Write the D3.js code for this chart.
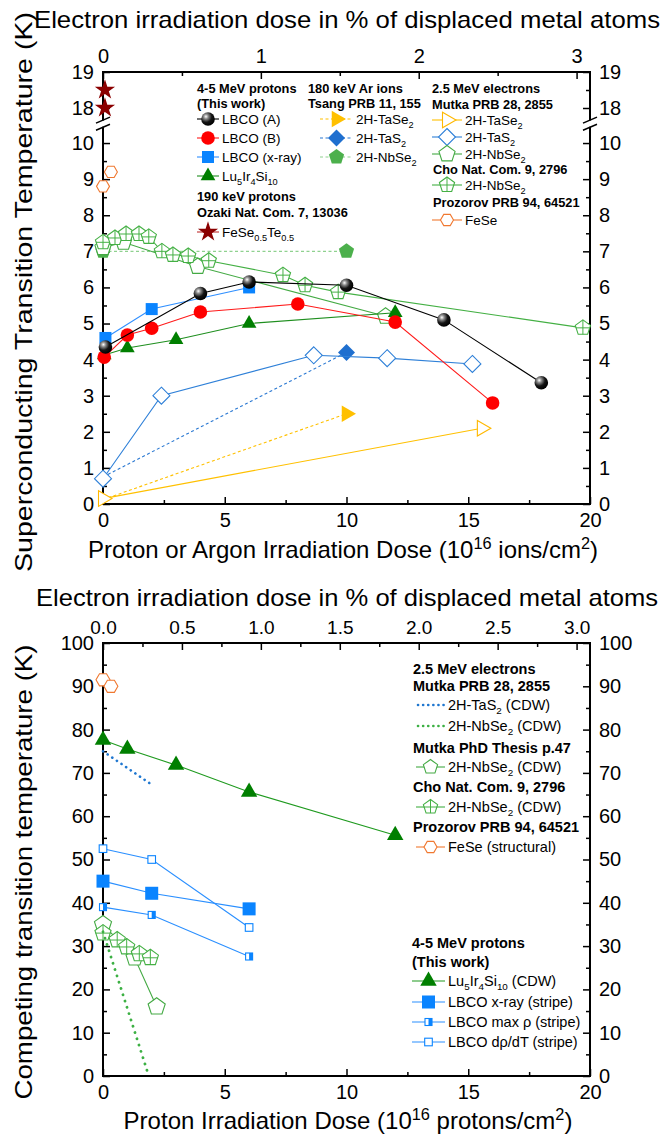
<!DOCTYPE html>
<html>
<head>
<meta charset="utf-8">
<script src="https://cdn.jsdelivr.net/npm/d3@7"></script>
<style>
  body { margin: 0; background: #fff; }
  text { font-family: "Liberation Sans", Arial, sans-serif; fill: #000; }
</style>
</head>
<body>
<svg id="chart" width="664" height="1141"></svg>
<script>
// ---------- top panel data (x = 1e16 ions/cm2, electron series in % displaced) ----------
const lbcoA      = [[0.1,4.35],[4,5.83],[6,6.15],[10,6.06],[14,5.1],[18,3.36]];
const lbcoB      = [[0.05,4.07],[1,4.68],[2,4.87],[4,5.32],[8,5.54],[12,5.04],[16,2.8]];
const lbcoXray   = [[0.1,4.6],[2,5.4],[6,6.0]];
const luIrSi     = [[0.05,4.13],[1,4.32],[3,4.55],[6,5.0],[12,5.3]];
const feSeTe     = [[0.08,18.5],[0.08,18.0]];
const tsangTaSe2 = [[0,0.12],[10,2.5]];
const tsangTaS2  = [[0,0.75],[10,4.2]];
const tsangNbSe2 = [[0,7.0],[10,7.0]];
const mutkaTaSe2 = [[0,0.15],[2.4,2.1]];
const mutkaTaS2  = [[0,0.7],[0.37,3.0],[1.335,4.12],[1.8,4.04],[2.34,3.88]];
const mutkaNbSe2 = [[0,7.1],[0.13,7.25],[0.6,6.58],[1.79,5.2]];
const choNbSe2   = [[0,7.25],[0.076,7.37],[0.146,7.48],[0.228,7.48],[0.29,7.4],[0.373,7.0],[0.443,6.9],
                    [0.54,6.87],[0.67,6.74],[1.14,6.34],[1.28,6.06],[1.49,5.87],[3.04,4.88]];
const prozFeSe   = [[0,8.8],[0.05,9.2]];

// ---------- bottom panel data ----------
const mutkaTaS2Cdw   = [[0,75],[0.3,67.5]];
const mutkaNbSe2Cdw  = [[0,33.3],[0.29,0]];
const thesisNbSe2    = [[0,35],[0.2,27.3],[0.34,16]];
const choNbSe2Cdw    = [[0,33],[0.09,31.4],[0.15,29.8],[0.23,28.2],[0.3,27.3]];
const prozFeSeStruct = [[0,91.5],[0.05,90]];
const luIrSiCdw      = [[0,77.6],[1,75.5],[3,71.8],[6,65.6],[12,55.6]];
const lbcoXrayStripe = [[0,45],[2,42.2],[6,38.6]];
const lbcoMaxRho     = [[0,39],[2,37.2],[6,27.6]];
const lbcoDrdt       = [[0,52.5],[2,50],[6,34.3]];

// ticks
const xMajor = [0,5,10,15,20], xMinor = [2.5,7.5,12.5,17.5];
const eTopMajor = [0,1,2,3], eTopMinor = [0.5,1.5,2.5];
const eBotMajor = [0,0.5,1,1.5,2,2.5,3], eBotMinor = [0.25,0.75,1.25,1.75,2.25,2.75];
const yLoMajor = d3.range(0,11), yLoMinor = d3.range(0.5,10.5,1);
const yHiMajor = [18,19], yHiMinor = [18.5];
const yBMajor = d3.range(0,101,10), yBMinor = d3.range(5,100,10);

const X0 = 103, X1 = 590;
const svg = d3.select("#chart");

const grad = svg.append("defs").append("radialGradient").attr("id","sph")
  .attr("cx","35%").attr("cy","32%").attr("r","70%");
grad.append("stop").attr("offset","0%").attr("stop-color","#ffffff");
grad.append("stop").attr("offset","25%").attr("stop-color","#8a8a8a");
grad.append("stop").attr("offset","60%").attr("stop-color","#151515");
grad.append("stop").attr("offset","100%").attr("stop-color","#000");

const xP = d3.scaleLinear().domain([0,20]).range([X0,X1]);
const xE = d3.scaleLinear().domain([0,3.085]).range([X0,X1]);
const yLo = d3.scaleLinear().domain([0,10.45]).range([504,126.8]);
const yHi = d3.scaleLinear().domain([17.65,19]).range([120.6,72]);
const yT = v => v > 15 ? yHi(v) : yLo(v);
const yB = d3.scaleLinear().domain([0,100]).range([1076,643]);

// sub/superscript text: "Lu_{5}" "10^{16}"
function rich(t, str, fs) {
  let shift = 0;
  str.split(/(_\{[^}]*\}|\^\{[^}]*\})/).forEach(p => {
    if (!p) return;
    let s = 0, txt = p, small = false;
    if (p.startsWith("_{")) { s = fs*0.28; txt = p.slice(2,-1); small = true; }
    else if (p.startsWith("^{")) { s = -fs*0.4; txt = p.slice(2,-1); small = true; }
    const ts = t.append("tspan").text(txt);
    if (s - shift !== 0) ts.attr("dy", s - shift);
    if (small) ts.attr("font-size", fs*0.68);
    shift = s;
  });
}

function poly(n, r, rot) {
  const pts = d3.range(n).map(i => {
    const a = rot + i*2*Math.PI/n;
    return [ (r*Math.cos(a)).toFixed(2), (r*Math.sin(a)).toFixed(2) ];
  });
  return "M" + pts.map(p => p.join(",")).join("L") + "Z";
}

function marker(g, m, x, y) {
  const s = g.append("g").attr("transform", `translate(${x},${y})`);
  const sw = m.sw || 1.1;
  const r = m.r;
  if (m.shape === "sphere") {
    s.append("circle").attr("r", r).attr("fill","url(#sph)");
  } else if (m.shape === "circle") {
    s.append("circle").attr("r", r).attr("fill", m.fill);
  } else if (m.shape === "square" || m.shape === "halfsq") {
    s.append("rect").attr("x",-r).attr("y",-r).attr("width",2*r).attr("height",2*r)
      .attr("fill", m.fill).attr("stroke", m.stroke || "none").attr("stroke-width", sw);
    if (m.shape === "halfsq")
      s.append("rect").attr("x",0).attr("y",-r).attr("width",r).attr("height",2*r).attr("fill", m.stroke);
  } else if (m.shape === "star") {
    s.append("path").attr("d", d3.symbol(d3.symbolStar, r*r*2.6)()).attr("fill", m.fill);
  } else {
    const spec = { tri:[3,-Math.PI/2], rtri:[3,0], diamond:[4,-Math.PI/2],
                   pent:[5,-Math.PI/2], pentx:[5,-Math.PI/2], hex:[6,0] }[m.shape];
    s.append("path").attr("d", poly(spec[0], r, spec[1]))
      .attr("fill", m.fill).attr("stroke", m.stroke || "none").attr("stroke-width", sw);
    if (m.shape === "pentx") {
      s.append("path").attr("d", `M0,${-r}V${(r*Math.cos(Math.PI/5)).toFixed(2)}M${-r*0.88},0H${r*0.88}`)
        .attr("stroke", m.stroke).attr("stroke-width", sw*0.9);
    }
  }
}

function drawSeries(g, data, xs, ys, st) {
  if (st.lc) {
    const line = d3.line().x(d => xs(d[0])).y(d => ys(d[1]));
    g.append("path").attr("d", line(data)).attr("fill","none")
      .attr("stroke", st.lc).attr("stroke-width", st.lw || 1.1)
      .attr("stroke-dasharray", st.dash || null)
      .attr("stroke-linecap", st.cap || "butt");
  }
  if (st.shape) data.forEach((d,i) => { if (i >= (st.skip || 0)) marker(g, st, xs(d[0]), ys(d[1])); });
}

function legendRow(g, xa, xb, y, st, label, fs) {
  g.append("line").attr("x1",xa).attr("x2",xb).attr("y1",y).attr("y2",y)
    .attr("stroke", st.lc).attr("stroke-width", st.llw || st.lw || 1.1)
    .attr("stroke-dasharray", st.ldash || st.dash || null)
    .attr("stroke-linecap", st.cap || "butt");
  if (st.shape) marker(g, st, (xa+xb)/2, y);
  const t = g.append("text").attr("x", xb + 3).attr("y", y + 0.35*fs).attr("font-size", fs);
  rich(t, label, fs);
}

function header(g, x, y, str, fs) {
  g.append("text").attr("x", x).attr("y", y + 0.35*fs)
    .attr("font-size", fs).attr("font-weight","bold").text(str);
}

// inward ticks, labels outside
function axis(g, fn, scale, major, minor, fmt, fs) {
  const a = g.append("g");
  a.call(fn(scale).tickValues(major).tickSize(-7).tickPadding(9).tickFormat(fmt))
   .call(s => s.select(".domain").remove());
  a.selectAll("text").attr("font-size", fs).attr("font-family", '"Liberation Sans", Arial, sans-serif');
  a.selectAll("line").attr("stroke-width", 1.5);
  if (minor.length) {
    const b = g.append("g");
    b.call(fn(scale).tickValues(minor).tickSize(-4).tickFormat(""))
     .call(s => s.select(".domain").remove());
    b.selectAll("line").attr("stroke-width", 1.5);
  }
}

// ================= TOP PANEL =================
const topP = svg.append("g");
const fmtInt = d3.format("d");
axis(topP.append("g").attr("transform",`translate(0,504)`), d3.axisBottom, xP, xMajor, xMinor, fmtInt, 20);
axis(topP.append("g").attr("transform",`translate(0,72)`), d3.axisTop, xE, eTopMajor, eTopMinor, fmtInt, 20);
axis(topP.append("g").attr("transform",`translate(${X0},0)`), d3.axisLeft, yLo, yLoMajor, yLoMinor, fmtInt, 20);
axis(topP.append("g").attr("transform",`translate(${X0},0)`), d3.axisLeft, yHi, yHiMajor, yHiMinor, fmtInt, 20);
axis(topP.append("g").attr("transform",`translate(${X1},0)`), d3.axisRight, yLo, yLoMajor, yLoMinor, fmtInt, 20);
axis(topP.append("g").attr("transform",`translate(${X1},0)`), d3.axisRight, yHi, yHiMajor, yHiMinor, fmtInt, 20);

const frame = topP.append("g").attr("stroke","#000").attr("stroke-width",2).attr("fill","none");
frame.append("path").attr("d",
  `M${X0},${yHi(17.65)}V72H${X1}V${yHi(17.65)}M${X0},${yLo(10.45)}V504H${X1}V${yLo(10.45)}`);
[X0, X1].forEach(x => {
  frame.append("path").attr("stroke-width",1.5)
    .attr("d", `M${x-7},${yHi(17.65)+2.5}L${x+7},${yHi(17.65)-3.5}M${x-7},${yLo(10.45)+3.5}L${x+7},${yLo(10.45)-2.5}`);
});

const styleTop = {
  lbcoA:   { lc:"#000", shape:"sphere", r:6.8 },
  lbcoB:   { lc:"#ff1a1a", shape:"circle", r:6.8, fill:"#ff0000" },
  lbcoX:   { lc:"#2f8fff", shape:"square", r:6, fill:"#0a84ff" },
  lu:      { lc:"#1f8f1f", shape:"tri", r:8.5, fill:"#007f00" },
  feSeTe:  { lc:"#c03030", shape:"star", r:7, fill:"#8b0000" },
  tTaSe2:  { lc:"#ffc000", dash:"3,2.5", shape:"rtri", r:9.5, fill:"#ffc000", skip:1 },
  tTaS2:   { lc:"#2a78d2", dash:"3,2.5", shape:"diamond", r:8.5, fill:"#1f6fcf", skip:1 },
  tNbSe2:  { lc:"#8fd18f", dash:"3,2.5", shape:"pent", r:8, fill:"#4cb04c" },
  mTaSe2:  { lc:"#ffc000", shape:"rtri", r:9, fill:"#fff", stroke:"#ffb800" },
  mTaS2:   { lc:"#2f80d8", shape:"diamond", r:8.5, fill:"#fff", stroke:"#2f80d8" },
  mNbSe2:  { lc:"#44aa44", shape:"pent", r:8.5, fill:"#fff", stroke:"#44aa44" },
  cNbSe2:  { lc:"#44b044", shape:"pentx", r:8, fill:"#fff", stroke:"#44b044" },
  pFeSe:   { lc:"#f07830", shape:"hex", r:6.5, fill:"#fff", stroke:"#f07830" }
};

const data1 = topP.append("g");
drawSeries(data1, tsangNbSe2, xP, yT, styleTop.tNbSe2);
drawSeries(data1, tsangTaSe2, xP, yT, styleTop.tTaSe2);
drawSeries(data1, tsangTaS2, xP, yT, styleTop.tTaS2);
drawSeries(data1, mutkaTaSe2, xE, yT, styleTop.mTaSe2);
drawSeries(data1, mutkaTaS2, xE, yT, styleTop.mTaS2);
drawSeries(data1, mutkaNbSe2, xE, yT, styleTop.mNbSe2);
drawSeries(data1, choNbSe2, xE, yT, styleTop.cNbSe2);
drawSeries(data1, prozFeSe, xE, yT, { ...styleTop.pFeSe, lc:null });
drawSeries(data1, luIrSi, xP, yT, styleTop.lu);
drawSeries(data1, lbcoXray, xP, yT, styleTop.lbcoX);
drawSeries(data1, lbcoB, xP, yT, styleTop.lbcoB);
drawSeries(data1, lbcoA, xP, yT, styleTop.lbcoA);
drawSeries(data1, feSeTe, xP, yT, { ...styleTop.feSeTe, lc:null });

// top legend
const lg1 = topP.append("g");
const fsL = 13.5, fsH = 12.8;
header(lg1, 197, 89, "4-5 MeV protons", fsH);
header(lg1, 197, 104, "(This work)", fsH);
legendRow(lg1, 197, 219, 119, styleTop.lbcoA, "LBCO (A)", fsL);
legendRow(lg1, 197, 219, 138, styleTop.lbcoB, "LBCO (B)", fsL);
legendRow(lg1, 197, 219, 157, styleTop.lbcoX, "LBCO (x-ray)", fsL);
legendRow(lg1, 197, 219, 176, styleTop.lu, "Lu_{5}Ir_{4}Si_{10}", fsL);
header(lg1, 197, 197, "190 keV protons", fsH);
header(lg1, 197, 213, "Ozaki Nat. Com. 7, 13036", fsH);
legendRow(lg1, 197, 219, 232, styleTop.feSeTe, "FeSe_{0.5}Te_{0.5}", fsL);

header(lg1, 308, 89, "180 keV Ar ions", fsH);
header(lg1, 308, 104, "Tsang PRB 11, 155", fsH);
legendRow(lg1, 320, 353, 119, styleTop.tTaSe2, "2H-TaSe_{2}", fsL);
legendRow(lg1, 320, 353, 138, styleTop.tTaS2, "2H-TaS_{2}", fsL);
legendRow(lg1, 320, 353, 157, styleTop.tNbSe2, "2H-NbSe_{2}", fsL);

header(lg1, 432, 89, "2.5 MeV electrons", fsH);
header(lg1, 432, 105, "Mutka PRB 28, 2855", fsH);
legendRow(lg1, 432, 462, 120, styleTop.mTaSe2, "2H-TaSe_{2}", fsL);
legendRow(lg1, 432, 462, 137, styleTop.mTaS2, "2H-TaS_{2}", fsL);
legendRow(lg1, 432, 462, 154, styleTop.mNbSe2, "2H-NbSe_{2}", fsL);
header(lg1, 433, 170, "Cho Nat. Com. 9, 2796", fsH);
legendRow(lg1, 432, 462, 185, styleTop.cNbSe2, "2H-NbSe_{2}", fsL);
header(lg1, 433, 203, "Prozorov PRB 94, 64521", fsH);
legendRow(lg1, 432, 462, 220, styleTop.pFeSe, "FeSe", fsL);

// titles
topP.append("text").attr("x", 347).attr("y", 20 + 8.4).attr("text-anchor","middle")
  .attr("font-size", 24).attr("textLength", 626).attr("lengthAdjust","spacingAndGlyphs")
  .text("Electron irradiation dose in % of displaced metal atoms");
const xt1 = topP.append("text").attr("x", 343).attr("y", 550 + 8.4).attr("text-anchor","middle")
  .attr("font-size", 24);
rich(xt1, "Proton or Argon Irradiation Dose (10^{16} ions/cm^{2})", 24);
topP.append("text").attr("transform","translate(32,292) rotate(-90)").attr("text-anchor","middle")
  .attr("font-size", 24).attr("textLength", 560).attr("lengthAdjust","spacingAndGlyphs")
  .text("Superconducting Transition Temperature (K)");

// ================= BOTTOM PANEL =================
const botP = svg.append("g");
const fmt1 = d3.format(".1f");
axis(botP.append("g").attr("transform",`translate(0,1076)`), d3.axisBottom, xP, xMajor, xMinor, fmtInt, 20);
axis(botP.append("g").attr("transform",`translate(0,643)`), d3.axisTop, xE, eBotMajor, eBotMinor, fmt1, 19);
axis(botP.append("g").attr("transform",`translate(${X0},0)`), d3.axisLeft, yB, yBMajor, yBMinor, fmtInt, 20);
axis(botP.append("g").attr("transform",`translate(${X1},0)`), d3.axisRight, yB, yBMajor, yBMinor, fmtInt, 20);
botP.append("rect").attr("x",X0).attr("y",643).attr("width",X1-X0).attr("height",1076-643)
  .attr("fill","none").attr("stroke","#000").attr("stroke-width",2);

const styleBot = {
  mTaS2:  { lc:"#1f77d0", lw:2.6, dash:"0.1,5.5", cap:"round" },
  mNbSe2: { lc:"#3cb043", lw:2.8, dash:"0.1,6.5", cap:"round" },
  thesis: { lc:"#44aa44", shape:"pent", r:9, fill:"#fff", stroke:"#44aa44" },
  cho:    { lc:"#44b044", shape:"pentx", r:8.5, fill:"#fff", stroke:"#44b044" },
  feSe:   { lc:"#f07830", shape:"hex", r:7, fill:"#fff", stroke:"#f07830" },
  lu:     { lc:"#1f9a1f", shape:"tri", r:9.5, fill:"#007f00" },
  xray:   { lc:"#2a8fff", shape:"square", r:6.5, fill:"#0a84ff" },
  maxRho: { lc:"#2a8fff", shape:"halfsq", r:3.5, fill:"#fff", stroke:"#0a84ff" },
  drdt:   { lc:"#2a8fff", shape:"square", r:3.8, fill:"#fff", stroke:"#0a84ff" }
};

const data2 = botP.append("g");
drawSeries(data2, luIrSiCdw, xP, yB, styleBot.lu);
drawSeries(data2, lbcoDrdt, xP, yB, styleBot.drdt);
drawSeries(data2, lbcoXrayStripe, xP, yB, styleBot.xray);
drawSeries(data2, lbcoMaxRho, xP, yB, styleBot.maxRho);
drawSeries(data2, thesisNbSe2, xE, yB, styleBot.thesis);
drawSeries(data2, choNbSe2Cdw, xE, yB, styleBot.cho);
drawSeries(data2, mutkaNbSe2Cdw, xE, yB, styleBot.mNbSe2);
drawSeries(data2, mutkaTaS2Cdw, xE, yB, styleBot.mTaS2);
drawSeries(data2, prozFeSeStruct, xE, yB, { ...styleBot.feSe, lc:null });

const lg2 = botP.append("g");
const fsB = 14.5;
header(lg2, 413, 669, "2.5 MeV electrons", fsB);
header(lg2, 413, 686, "Mutka PRB 28, 2855", fsB);
legendRow(lg2, 418, 445, 705, { ...styleBot.mTaS2, ldash:"0.1,5", llw:2.6 }, "2H-TaS_{2} (CDW)", fsB);
legendRow(lg2, 418, 445, 726, { ...styleBot.mNbSe2, ldash:"0.1,5", llw:2.6 }, "2H-NbSe_{2} (CDW)", fsB);
header(lg2, 413, 748, "Mutka PhD Thesis p.47", fsB);
legendRow(lg2, 416, 445, 767, { ...styleBot.thesis, r:7.5 }, "2H-NbSe_{2} (CDW)", fsB);
header(lg2, 413, 787, "Cho Nat. Com. 9, 2796", fsB);
legendRow(lg2, 416, 445, 807, { ...styleBot.cho, r:7.5 }, "2H-NbSe_{2} (CDW)", fsB);
header(lg2, 413, 827, "Prozorov PRB 94, 64521", fsB);
legendRow(lg2, 416, 445, 847, { ...styleBot.feSe, r:6.5 }, "FeSe (structural)", fsB);

header(lg2, 412, 943, "4-5 MeV protons", fsB);
header(lg2, 412, 962, "(This work)", fsB);
legendRow(lg2, 412, 445, 981, styleBot.lu, "Lu_{5}Ir_{4}Si_{10} (CDW)", fsB);
legendRow(lg2, 412, 445, 1002, styleBot.xray, "LBCO x-ray (stripe)", fsB);
legendRow(lg2, 412, 445, 1022, styleBot.maxRho, "LBCO max ρ (stripe)", fsB);
legendRow(lg2, 412, 445, 1042, styleBot.drdt, "LBCO dρ/dT (stripe)", fsB);

botP.append("text").attr("x", 347).attr("y", 598 + 8.4).attr("text-anchor","middle")
  .attr("font-size", 24).attr("textLength", 622).attr("lengthAdjust","spacingAndGlyphs")
  .text("Electron irradiation dose in % of displaced metal atoms");
const xt2 = botP.append("text").attr("x", 348).attr("y", 1121 + 8.4).attr("text-anchor","middle")
  .attr("font-size", 24);
rich(xt2, "Proton Irradiation Dose (10^{16} protons/cm^{2})", 24);
botP.append("text").attr("transform","translate(32,872) rotate(-90)").attr("text-anchor","middle")
  .attr("font-size", 24).attr("textLength", 455).attr("lengthAdjust","spacingAndGlyphs")
  .text("Competing transition temperature (K)");
</script>
</body>
</html>
